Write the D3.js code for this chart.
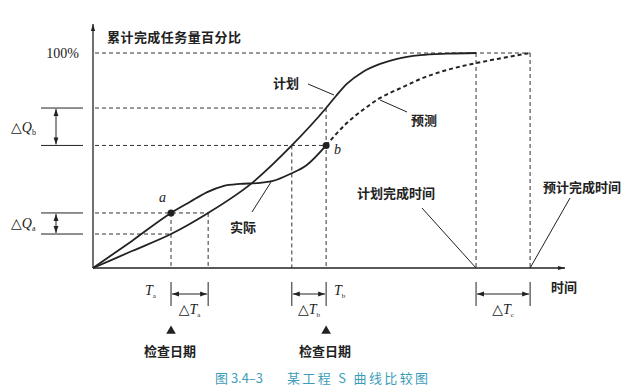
<!DOCTYPE html>
<html>
<head>
<meta charset="utf-8">
<script src="https://cdn.jsdelivr.net/npm/d3@7/dist/d3.min.js"></script>
<style>
  body { margin: 0; background: #fff; }
  svg { display: block; }
  .cjk { font-family: "Noto Sans CJK SC", sans-serif; font-weight: 700; fill: #222; }
  .ser { font-family: "Liberation Serif", "DejaVu Serif", serif; fill: #222; }
</style>
</head>
<body>
<svg id="chart" width="628" height="392"></svg>
<script>
// ---- data (time units, percent complete) ----
const planT     = [0, 8.3, 16.6, 24.5, 33.8, 42.3, 49.6, 51.7, 54.0, 57.4, 61.1, 64.7, 69.6, 75.3, 81.5];
const planV     = [0, 7.9, 15.8, 25.6, 39.5, 57.0, 74.4, 80.0, 85.6, 91.2, 94.9, 97.3, 99.0, 99.7, 100];
const actualT   = [0, 8.3, 16.6, 20.6, 24.3, 27.7, 31.3, 34.9, 38.3, 41.9, 45.5, 49.6];
const actualV   = [0, 12.6, 25.6, 30.7, 35.3, 38.1, 39.1, 39.5, 40.5, 43.7, 47.9, 57.0];
const forecastT = [49.6, 54.0, 57.4, 61.1, 66.0, 70.2, 75.3, 81.5, 87.2, 93.0];
const forecastV = [57.0, 67.4, 73.5, 79.1, 84.2, 88.4, 92.1, 95.3, 97.7, 100];
const yTicks = [100];
const checkT  = [16.6, 49.6];          // Ta, Tb
const pointLabels = ["a", "b"];
const planDone = 81.5, forecastDone = 93.0;
const deltaTStart = [16.6, 42.3, 81.5]; // ΔTa, ΔTb, ΔTc
const deltaTEnd   = [24.5, 49.6, 93.0];
const deltaQLow  = [15.8, 57.0];        // ΔQa, ΔQb
const deltaQHigh = [25.6, 74.4];

const svg = d3.select("#chart");
const x = d3.scaleLinear().domain([0, 100]).range([93, 563]);
const y = d3.scaleLinear().domain([0, 100]).range([268, 53]);
const ink = "#222";

const defs = svg.append("defs");
function marker(id, path) {
  defs.append("marker").attr("id", id).attr("viewBox", "0 0 10 10")
    .attr("refX", 10).attr("refY", 5).attr("markerWidth", 7).attr("markerHeight", 7)
    .attr("markerUnits", "userSpaceOnUse").attr("orient", "auto-start-reverse")
    .append("path").attr("d", path).attr("fill", ink);
}
marker("arr", "M0,1.5 L10,5 L0,8.5 Z");
marker("big", "M0,2 L10,5 L0,8 Z");

// ---- dashed reference lines ----
const dash = svg.append("g").attr("stroke", "#333").attr("stroke-width", 1).attr("stroke-dasharray", "4,3").attr("fill", "none");
const hLines = [
  [100, forecastDone], [deltaQHigh[1], checkT[1]], [deltaQLow[1], checkT[1]],
  [deltaQHigh[0], deltaTEnd[0]], [deltaQLow[0], checkT[0]]
];
hLines.forEach(([v, t]) => dash.append("line").attr("x1", x(0) + 2).attr("x2", x(t)).attr("y1", y(v)).attr("y2", y(v)));
const vLines = [
  [checkT[0], deltaQHigh[0]], [deltaTEnd[0], deltaQHigh[0]], [deltaTStart[1], deltaQLow[1]],
  [checkT[1], deltaQHigh[1]], [planDone, 100], [forecastDone, 100]
];
vLines.forEach(([t, v]) => dash.append("line").attr("x1", x(t)).attr("x2", x(t)).attr("y1", y(v)).attr("y2", y(0)));

// ---- curves ----
const line = d3.line().x(d => x(d[0])).y(d => y(d[1])).curve(d3.curveMonotoneX);
svg.append("path").datum(d3.zip(planT, planV)).attr("d", line)
  .attr("fill", "none").attr("stroke", ink).attr("stroke-width", 1.8);
svg.append("path").datum(d3.zip(actualT, actualV)).attr("d", line)
  .attr("fill", "none").attr("stroke", ink).attr("stroke-width", 1.8);
svg.append("path").datum(d3.zip(forecastT, forecastV)).attr("d", line)
  .attr("fill", "none").attr("stroke", ink).attr("stroke-width", 2).attr("stroke-dasharray", "4,3");

// ---- axes ----
svg.append("line").attr("x1", x(0)).attr("x2", x(0)).attr("y1", y(0)).attr("y2", 24)
  .attr("stroke", ink).attr("stroke-width", 1.3).attr("marker-end", "url(#big)");
svg.append("line").attr("x1", x(0)).attr("x2", x(100) + 2).attr("y1", y(0)).attr("y2", y(0))
  .attr("stroke", ink).attr("stroke-width", 1.3).attr("marker-end", "url(#big)");
const yAxis = svg.append("g").attr("transform", `translate(${x(0)},0)`)
  .call(d3.axisLeft(y).tickValues(yTicks).tickFormat(d => d + "%").tickSize(0).tickPadding(14));
yAxis.select(".domain").remove();
yAxis.attr("font-size", null).attr("font-family", null);
yAxis.selectAll("text").attr("class", "ser").style("font-size", "14px").attr("fill", ink);

svg.append("text").attr("class", "cjk").attr("x", 107).attr("y", 42).attr("font-size", 13)
  .attr("textLength", 134).text("累计完成任务量百分比");
svg.append("text").attr("class", "cjk").attr("x", 551).attr("y", 292).attr("font-size", 13).text("时间");

// ---- points a, b ----
checkT.forEach((t, i) => {
  const v = i === 0 ? deltaQHigh[0] : deltaQLow[1];
  svg.append("circle").attr("cx", x(t)).attr("cy", y(v)).attr("r", 3.5).attr("fill", ink);
});
svg.append("text").attr("class", "ser").attr("font-style", "italic").attr("font-size", 14)
  .attr("x", 159).attr("y", 202).text(pointLabels[0]);
svg.append("text").attr("class", "ser").attr("font-style", "italic").attr("font-size", 14)
  .attr("x", 334).attr("y", 154).text(pointLabels[1]);

// ---- ΔQ brackets ----
const qNames = ["a", "b"];
deltaQLow.forEach((lo, i) => {
  const hi = deltaQHigh[i];
  [lo, hi].forEach(v => svg.append("line").attr("x1", 41).attr("x2", 83).attr("y1", y(v)).attr("y2", y(v))
    .attr("stroke", ink).attr("stroke-width", 1));
  svg.append("line").attr("x1", 56).attr("x2", 56).attr("y1", y(lo) - 1).attr("y2", y(hi) + 1)
    .attr("stroke", ink).attr("stroke-width", 1)
    .attr("marker-start", "url(#arr)").attr("marker-end", "url(#arr)");
  const t = svg.append("text").attr("class", "ser").attr("font-size", 14)
    .attr("x", 11).attr("y", (y(lo) + y(hi)) / 2 + 5);
  t.append("tspan").text("△");
  t.append("tspan").attr("font-style", "italic").text("Q");
  t.append("tspan").attr("font-size", 8).attr("dy", 3).text(qNames[i]);
});

// ---- ΔT brackets ----
const tNames = ["a", "b", "c"];
deltaTStart.forEach((t0, i) => {
  const t1 = deltaTEnd[i];
  [t0, t1].forEach(t => svg.append("line").attr("x1", x(t)).attr("x2", x(t)).attr("y1", 282).attr("y2", 306)
    .attr("stroke", ink).attr("stroke-width", 1));
  svg.append("line").attr("x1", x(t0) + 1).attr("x2", x(t1) - 1).attr("y1", 294).attr("y2", 294)
    .attr("stroke", ink).attr("stroke-width", 1)
    .attr("marker-start", "url(#arr)").attr("marker-end", "url(#arr)");
  const tx = svg.append("text").attr("class", "ser").attr("font-size", 14)
    .attr("x", (x(t0) + x(t1)) / 2).attr("y", 314).attr("text-anchor", "middle");
  tx.append("tspan").text("△");
  tx.append("tspan").attr("font-style", "italic").text("T");
  tx.append("tspan").attr("font-size", 7).attr("dy", 3).text(tNames[i]);
});
// Ta, Tb labels
[[145, "a"], [334, "b"]].forEach(([px, s]) => {
  const t = svg.append("text").attr("class", "ser").attr("font-size", 14).attr("x", px).attr("y", 295);
  t.append("tspan").attr("font-style", "italic").text("T");
  t.append("tspan").attr("font-size", 7).attr("dy", 3).text(s);
});

// ---- check dates ----
checkT.forEach(t => {
  svg.append("path").attr("d", d3.symbol().type(d3.symbolTriangle).size(40)())
    .attr("transform", `translate(${x(t)},331)`).attr("fill", ink);
  svg.append("text").attr("class", "cjk").attr("x", x(t) - 1).attr("y", 356).attr("font-size", 13)
    .attr("text-anchor", "middle").text("检查日期");
});

// ---- curve labels with leader lines ----
const leaders = [
  [308, 84, 334, 95], [380, 100, 407, 112], [252, 212, 271, 182],
  [422, 208, x(planDone), y(0)], [570, 198, x(forecastDone), y(0)]
];
leaders.forEach(([a, b, c, d]) => svg.append("line").attr("x1", a).attr("y1", b).attr("x2", c).attr("y2", d)
  .attr("stroke", ink).attr("stroke-width", 1));
const labels = [
  [273, 88, "计划"], [411, 125, "预测"], [230, 232, "实际"],
  [357, 198, "计划完成时间"], [543, 192, "预计完成时间"]
];
labels.forEach(([px, py, s]) => svg.append("text").attr("class", "cjk").attr("x", px).attr("y", py)
  .attr("font-size", 13).text(s));

// ---- caption ----
svg.append("text").attr("x", 215).attr("y", 383).attr("font-size", 13)
  .attr("font-family", "Noto Sans CJK SC, sans-serif").attr("fill", "#3d9db8")
  .attr("textLength", 48).text("图 3.4–3");
svg.append("text").attr("x", 287).attr("y", 383).attr("font-size", 13)
  .attr("font-family", "Noto Sans CJK SC, sans-serif").attr("fill", "#3d9db8")
  .attr("textLength", 141).text("某工程 S 曲线比较图");
</script>
</body>
</html>
